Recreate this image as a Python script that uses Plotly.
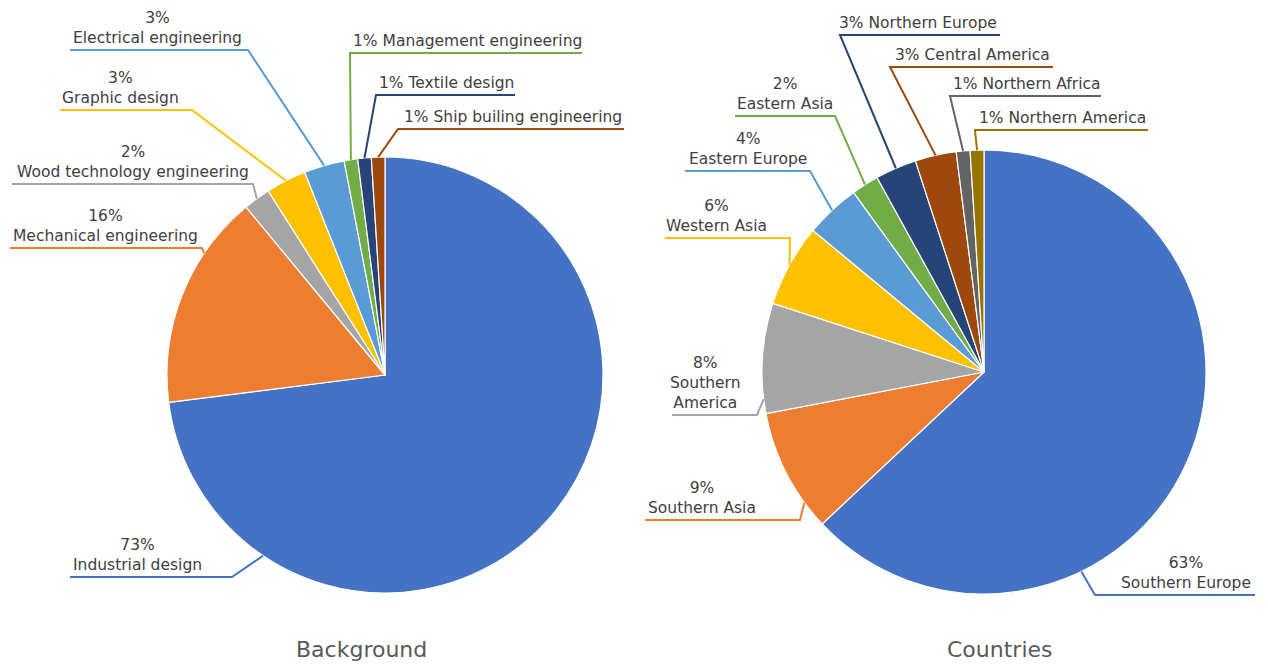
import math
import plotly.graph_objects as go

W, H = 1268, 664

# ---- data -------------------------------------------------------------
bg_labels = [
    "Industrial design",
    "Mechanical engineering",
    "Wood technology engineering",
    "Graphic design",
    "Electrical engineering",
    "Management engineering",
    "Textile design",
    "Ship builing engineering",
]
bg_values = [73, 16, 2, 3, 3, 1, 1, 1]

ct_labels = [
    "Southern Europe",
    "Southern Asia",
    "Southern America",
    "Western Asia",
    "Eastern Europe",
    "Eastern Asia",
    "Northern Europe",
    "Central America",
    "Northern Africa",
    "Northern America",
]
ct_values = [63, 9, 8, 6, 4, 2, 3, 3, 1, 1]

titles = ["Background", "Countries"]

palette = ["#4472C4", "#ED7D31", "#A5A5A5", "#FFC000", "#5B9BD5",
           "#70AD47", "#264478", "#9E480E", "#636363", "#997300"]

# ---- layout of the two pies (pixel centre and radius) -----------------
pies = [
    dict(cx=385, cy=375, r=218, title_x=361),
    dict(cx=984, cy=372, r=222, title_x=1000),
]

# label boxes: underline x0..x1 at y=uy, text centre tx, elbow side,
# optional anchor angle on the rim (degrees clockwise from 12 o'clock)
bg_layout = [
    dict(x0=70, x1=232, uy=577, tx=137, side="right", stack=True, ang=214),
    dict(x0=10, x1=202, uy=248, tx=105, side="right", stack=True, ang=304),
    dict(x0=12, x1=253, uy=184, tx=133, side="right", stack=True),
    dict(x0=60, x1=192, uy=110, tx=120, side="right", stack=True),
    dict(x0=70, x1=248, uy=50, tx=157, side="right", stack=True),
    dict(x0=350, x1=582, uy=53, tx=467, side="left", stack=False),
    dict(x0=376, x1=515, uy=95, tx=446, side="left", stack=False),
    dict(x0=398, x1=624, uy=129, tx=513, side="left", stack=False),
]
ct_layout = [
    dict(x0=1095, x1=1255, uy=595, tx=1186, side="left", stack=True, ang=154),
    dict(x0=645, x1=800, uy=520, tx=702, side="right", stack=True, ang=234),
    dict(x0=672, x1=757, uy=415, tx=705, side="right", stack=True, ang=263, wrap=True),
    dict(x0=665, x1=790, uy=238, tx=716, side="right", stack=True),
    dict(x0=685, x1=810, uy=171, tx=748, side="right", stack=True),
    dict(x0=735, x1=835, uy=116, tx=785, side="right", stack=True),
    dict(x0=840, x1=1000, uy=35, tx=918, side="left", stack=False),
    dict(x0=890, x1=1053, uy=67, tx=972, side="left", stack=False),
    dict(x0=950, x1=1101, uy=96, tx=1026, side="left", stack=False),
    dict(x0=975, x1=1148, uy=130, tx=1062, side="left", stack=False),
]

FONT = "DejaVu Sans"
TEXT_COLOR = "#404040"


def px(x):
    return x / W


def py(y):
    return 1 - y / H


fig = go.Figure()
shapes = []
annotations = []

for pie, labels, values, lay, title in zip(
        pies, [bg_labels, ct_labels], [bg_values, ct_values],
        [bg_layout, ct_layout], titles):
    cx, cy, r = pie["cx"], pie["cy"], pie["r"]
    colors = palette[:len(values)]
    fig.add_trace(go.Pie(
        labels=labels,
        values=values,
        sort=False,
        direction="clockwise",
        rotation=0,
        textinfo="none",
        hoverinfo="label+percent",
        marker=dict(colors=colors, line=dict(color="white", width=1.2)),
        domain=dict(x=[px(cx - r), px(cx + r)], y=[py(cy + r), py(cy - r)]),
        showlegend=False,
    ))

    total = sum(values)
    start = 0.0
    for lab, val, col, L in zip(labels, values, colors, lay):
        span = 360.0 * val / total
        ang = L.get("ang", start + span / 2)
        start += span
        a = math.radians(ang)
        rx = cx + r * math.sin(a)
        ry = cy - r * math.cos(a)
        ex = L["x1"] if L["side"] == "right" else L["x0"]
        fx = L["x0"] if L["side"] == "right" else L["x1"]
        uy = L["uy"]
        shapes.append(dict(
            type="path", xref="paper", yref="paper",
            path=f"M {px(rx)},{py(ry)} L {px(ex)},{py(uy)} L {px(fx)},{py(uy)}",
            line=dict(color=col, width=2),
        ))
        pct = f"{round(100 * val / total)}%"
        name = lab.replace(" ", "<br>", 1) if L.get("wrap") else lab
        text = f"{pct}<br>{name}" if L["stack"] else f"{pct} {name}"
        annotations.append(dict(
            x=px(L["tx"]), y=py(uy - 1), xref="paper", yref="paper",
            xanchor="center", yanchor="bottom", showarrow=False,
            text=text, align="center",
            font=dict(family=FONT, size=15.5, color=TEXT_COLOR),
        ))

    annotations.append(dict(
        x=px(pie["title_x"]), y=py(649), xref="paper", yref="paper",
        xanchor="center", yanchor="middle", showarrow=False,
        text=title, font=dict(family=FONT, size=22, color="#595959"),
    ))

fig.update_layout(
    width=W, height=H,
    margin=dict(l=0, r=0, t=0, b=0),
    paper_bgcolor="white",
    plot_bgcolor="white",
    shapes=shapes,
    annotations=annotations,
)

fig.write_html("out.html")
